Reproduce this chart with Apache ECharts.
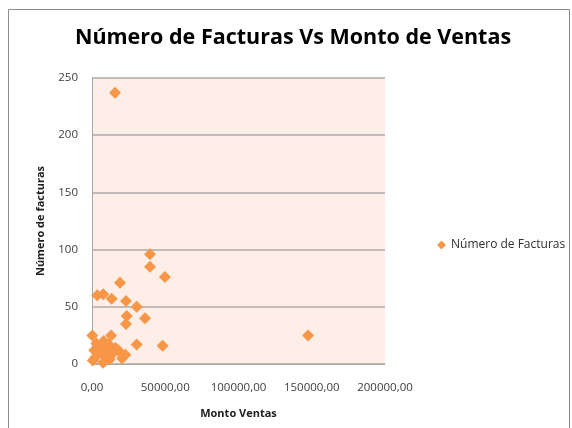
<!DOCTYPE html>
<html><head><meta charset="utf-8">
<script src="https://cdn.jsdelivr.net/npm/echarts@6/dist/echarts.min.js"></script>
<style>html,body{margin:0;padding:0;background:#fff}#c{width:572px;height:428px}</style>
</head><body><div id="c"></div>
<script>
const seriesName = "Número de Facturas";
const montoVentas = [15700,147500,39600,39600,49800,19100,3600,7700,13400,23200,30500,23700,36200,23200,200,13000,30500,48200,11500,4500,10300,1500,18000,22800,9000,2300,500,7500,20500,6000,14000,3000,8000,12000,16000];
const numeroFacturas = [237,25,96,85,76,71,60,61,57,55,50,42,40,35,25,25,17,16,17,15,14,12,12,8,8,6,3,1,5,10,9,18,20,4,14];
const xTicks = [0,50000,100000,150000,200000];
const yTicks = [0,50,100,150,200,250];

const data = montoVentas.map((v,i)=>[v, numeroFacturas[i]]);
const chart = echarts.init(document.getElementById('c'));
const lab = {color:'#404040', fontFamily:'Open Sans, sans-serif', fontSize:11.5};
chart.setOption({
  animation:false,
  title:{text:'Número de Facturas Vs Monto de Ventas', left:288, top:22, textAlign:'center',
    textStyle:{fontFamily:'Open Sans, sans-serif', fontWeight:'bold', fontSize:21.5, color:'#000'}},
  graphic:[{type:'rect', shape:{x:8.5,y:9.5,width:561,height:440}, style:{fill:null, stroke:'#8c8c8c', lineWidth:1}, silent:true}],
  legend:{data:[{name:seriesName, icon:'diamond'}], left:432, top:234, orient:'vertical', itemWidth:9, itemHeight:9, itemGap:4,
    textStyle:{fontFamily:'Open Sans, sans-serif', fontSize:12, color:'#303030'}},
  grid:{left:92, right:187, top:78, bottom:64, show:true, backgroundColor:'#FDEEE8', borderWidth:0},
  xAxis:{type:'value', min:xTicks[0], max:xTicks[xTicks.length-1], interval:50000,
    name:'Monto Ventas', nameLocation:'middle', nameGap:44,
    nameTextStyle:{fontFamily:'Open Sans, sans-serif', fontWeight:'bold', fontSize:11, color:'#202020'},
    axisLine:{show:true, lineStyle:{color:'#a8a8a8', width:1}}, axisTick:{show:false},
    splitLine:{show:false},
    axisLabel:Object.assign({margin:18, formatter:v=>v.toFixed(2).replace('.',',')}, lab)},
  yAxis:{type:'value', min:yTicks[0], max:yTicks[yTicks.length-1], interval:50,
    name:'Número de facturas', nameLocation:'middle', nameGap:46, nameRotate:90,
    nameTextStyle:{fontFamily:'Open Sans, sans-serif', fontWeight:'bold', fontSize:11, color:'#202020'},
    axisLine:{show:true, lineStyle:{color:'#a8a8a8', width:1}}, axisTick:{show:false},
    splitLine:{show:true, lineStyle:{color:'#b0a8a8', width:1.5}},
    axisLabel:Object.assign({margin:14}, lab)},
  series:[{name:seriesName, type:'scatter', symbol:'diamond', symbolSize:12, data:data,
    itemStyle:{color:'#F79646', opacity:1}}]
});
</script></body></html>
